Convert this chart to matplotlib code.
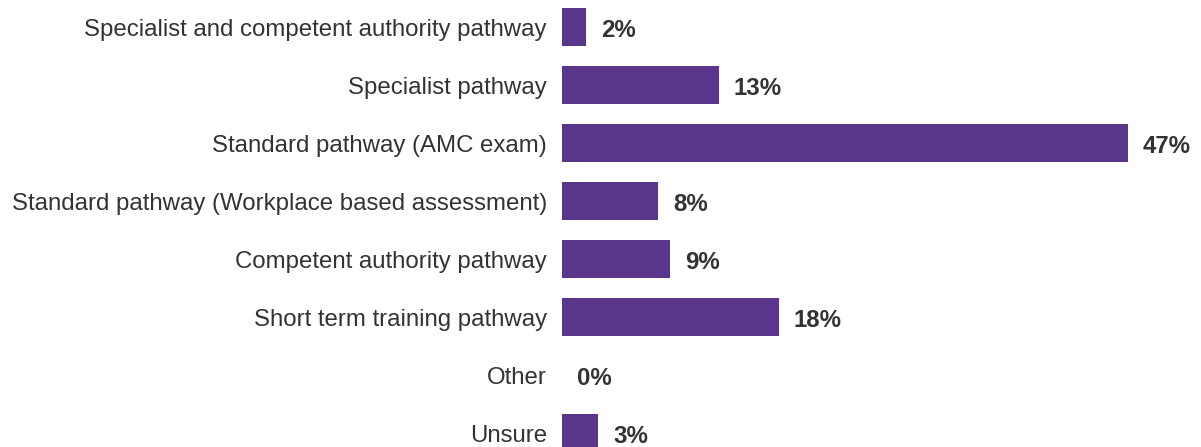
import matplotlib
matplotlib.use("Agg")
import matplotlib.pyplot as plt

# ── data ────────────────────────────────────────────────────────────────
categories = [
    "Specialist and competent authority pathway",
    "Specialist pathway",
    "Standard pathway (AMC exam)",
    "Standard pathway (Workplace based assessment)",
    "Competent authority pathway",
    "Short term training pathway",
    "Other",
    "Unsure",
]
values = [2, 13, 47, 8, 9, 18, 0, 3]

BAR = "#59368C"
TEXT = "#333333"

plt.rcParams["font.family"] = ["Liberation Sans", "DejaVu Sans"]

fig = plt.figure(figsize=(12.01, 4.47), dpi=100)
ax = fig.add_axes([0.468, 0.0, 0.532, 1.0])

pos = list(range(len(categories)))
ax.barh(pos, values, height=0.655, color=BAR, linewidth=0)

for p, v in zip(pos, values):
    ax.annotate(f"{v}%", xy=(v, p), xytext=(15, -3), textcoords="offset pixels",
                ha="left", va="center", fontsize=17.3, fontweight="bold", color=TEXT)

ax.set_yticks(pos)
ax.set_yticklabels(categories, fontsize=17.3, color=TEXT)
ax.tick_params(axis="y", length=0, pad=11)
ax.set_xticks([])
ax.set_xlim(0, 53.07)
ax.set_ylim(7.24, -0.466)
for s in ax.spines.values():
    s.set_visible(False)

fig.savefig("out.png", dpi=100, facecolor="white")
